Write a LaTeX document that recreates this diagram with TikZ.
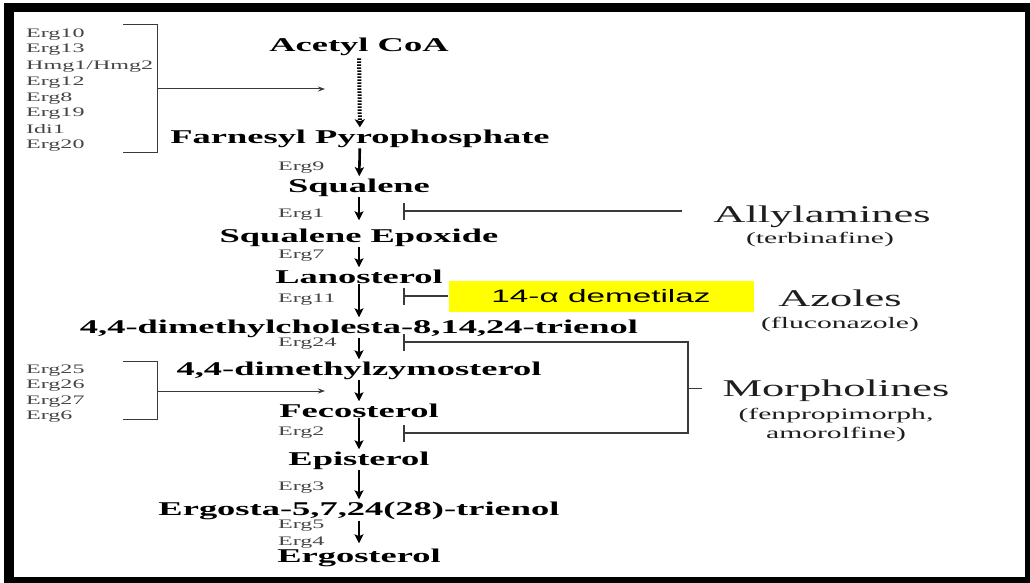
\documentclass[tikz,border=0pt]{standalone}
\usepackage{fontspec}
\setmainfont{Liberation Serif}
\newfontfamily\arialf{Liberation Sans}
\usetikzlibrary{arrows.meta}
\newcommand\sx[1]{\scalebox{1.85}[1]{#1}}
\newcommand\sxc[1]{\scalebox{1.87}[1]{#1}}
\definecolor{ergc}{HTML}{454545}
\definecolor{linec}{HTML}{3A3A3A}
\definecolor{drugc}{HTML}{1E1E1E}
\definecolor{hl}{HTML}{FFFF00}
\begin{document}
\begin{tikzpicture}[x=1pt,y=-1pt,
  comp/.style={font=\fontsize{19.5}{21}\selectfont\bfseries, inner sep=0pt, anchor=base},
  erg/.style={font=\fontsize{13}{14}\selectfont, text=ergc, inner sep=0pt, anchor=base west},
  drug/.style={font=\fontsize{24}{26}\selectfont, text=drugc, inner sep=0pt, anchor=base},
  drugsub/.style={font=\fontsize{16}{17}\selectfont, text=drugc, inner sep=0pt, anchor=base},
  arr/.style={line width=2.6pt, -{Stealth[length=9pt,width=9pt,inset=2pt]}, shorten <=1pt, shorten >=2pt},
  thinline/.style={line width=1pt, draw=linec},
  thinarr/.style={line width=1pt, draw=linec, -{Stealth[length=7pt,width=5pt]}},
  inh/.style={line width=1.1pt, draw=linec, -{Bar[width=17pt,line width=1.6pt]}},
  inhboth/.style={line width=1.1pt, draw=linec, {Bar[width=17pt,line width=1.6pt]}-{Bar[width=17pt,line width=1.6pt]}}
]
\useasboundingbox (0,0) rectangle (1030,583);
% frame
\fill[black] (4,3) rectangle (1030,583);
\fill[white] (14,12) rectangle (1025,577);

% main compounds
\node[comp] (acetyl) at (359,52) {\sxc{Acetyl CoA}};
\node[comp] (farn) at (360,143) {\sxc{Farnesyl Pyrophosphate}};
\node[comp] (squal) at (359,192) {\sxc{Squalene}};
\node[comp] (epox) at (359,242) {\sxc{Squalene Epoxide}};
\node[comp] (lano) at (359,283) {\sxc{Lanosterol}};
\node[comp] (chol) at (359,333) {\sxc{4,4-dimethylcholesta-8,14,24-trienol}};
\node[comp] (zymo) at (359,375) {\sxc{4,4-dimethylzymosterol}};
\node[comp] (feco) at (359,417) {\sxc{Fecosterol}};
\node[comp] (epis) at (359,465) {\sxc{Episterol}};
\node[comp] (ergta) at (359,515) {\sxc{Ergosta-5,7,24(28)-trienol}};
\node[comp] (ergol) at (359,562) {\sxc{Ergosterol}};

% enzyme labels on main path
\node[erg] (e9) at (278,170) {\sx{Erg9}};
\node[erg] (e1) at (278,217) {\sx{Erg1}};
\node[erg] (e7) at (278,258) {\sx{Erg7}};
\node[erg] (e11) at (278,302) {\sx{Erg11}};
\node[erg] (e24) at (278,346) {\sx{Erg24}};
\node[erg] (e2) at (278,435) {\sx{Erg2}};
\node[erg] (e3) at (278,490) {\sx{Erg3}};
\node[erg] (e5) at (278,528) {\sx{Erg5}};
\node[erg] (e4) at (278,545) {\sx{Erg4}};

% left enzyme group 1
\node[erg] (g1a) at (26,38) {\sx{Erg10}};
\node[erg] (g1b) at (26,53) {\sx{Erg13}};
\node[erg] (g1c) at (26,70) {\sx{Hmg1/Hmg2}};
\node[erg] (g1d) at (26,86) {\sx{Erg12}};
\node[erg] (g1e) at (26,102) {\sx{Erg8}};
\node[erg] (g1f) at (26,117) {\sx{Erg19}};
\node[erg] (g1g) at (26,133) {\sx{Idi1}};
\node[erg] (g1h) at (26,149) {\sx{Erg20}};
% left enzyme group 2
\node[erg] (g2a) at (26,373) {\sx{Erg25}};
\node[erg] (g2b) at (26,388) {\sx{Erg26}};
\node[erg] (g2c) at (26,404) {\sx{Erg27}};
\node[erg] (g2d) at (26,419) {\sx{Erg6}};

% main arrows
\draw[line width=4pt, dash pattern=on 1.4pt off 1.6pt, -{Stealth[length=8pt,width=10pt,inset=2pt]}, shorten <=2pt, shorten >=2pt] (acetyl) -- (farn);
\draw[arr] (farn) -- (squal);
\draw[arr, shorten >=8pt] (squal) -- (epox);
\draw[arr] (epox) -- (lano);
\draw[arr] (lano) -- (chol);
\draw[arr] (chol) -- (zymo);
\draw[arr] (zymo) -- (feco);
\draw[arr] (feco) -- (epis);
\draw[arr] (epis) -- (ergta);
\draw[arr, shorten >=5pt] (ergta) -- (ergol);

% left brackets
\coordinate (br1t) at (123,25);
\coordinate (br1tc) at (157,25);
\coordinate (br1bc) at (157,152);
\coordinate (br1b) at (123,152);
\coordinate (br1m) at (157,89);
\coordinate (br1e) at (325,89);
\draw[thinline] (br1t) -- (br1tc) -- (br1bc) -- (br1b);
\draw[thinarr] (br1m) -- (br1e);

\coordinate (br2t) at (123,361);
\coordinate (br2tc) at (157,361);
\coordinate (br2bc) at (157,419);
\coordinate (br2b) at (123,419);
\coordinate (br2m) at (157,391);
\coordinate (br2e) at (325,391);
\draw[thinline] (br2t) -- (br2tc) -- (br2bc) -- (br2b);
\draw[thinarr] (br2m) -- (br2e);

% drugs
\node[drug] (allyl) at (822,222) {\sx{Allylamines}};
\node[drugsub] (terb) at (820,243) {\sx{(terbinafine)}};
\node[drug] (azol) at (840,306) {\sx{Azoles}};
\node[drugsub] (fluc) at (840,328) {\sx{(fluconazole)}};
\node[drug] (morph) at (836,396) {\sx{Morpholines}};
\node[drugsub] (fenp) at (836,419) {\sx{(fenpropimorph,}};
\node[drugsub] (amor) at (836,438) {\sx{amorolfine)}};

% highlight box
\node[fill=hl, minimum width=305pt, minimum height=31pt, inner sep=0pt,
      font=\arialf\fontsize{18}{19}\selectfont] (demet) at (601,296) {\sx{14-α demetilaz}};

% inhibition lines
\coordinate (b1) at (403,211);
\coordinate (l1) at (682,211);
\draw[inh] (l1) -- (b1);
\coordinate (b11) at (403,296);
\draw[inh] (demet.west) -- (b11);
\coordinate (b24) at (403,342);
\coordinate (m1) at (688,342);
\coordinate (m2) at (688,433);
\coordinate (b2) at (403,433);
\draw[inhboth] (b24) -- (m1) -- (m2) -- (b2);
\coordinate (mt) at (688,388);
\coordinate (mte) at (702,388);
\draw[thinline] (mt) -- (mte);
\end{tikzpicture}
\end{document}
